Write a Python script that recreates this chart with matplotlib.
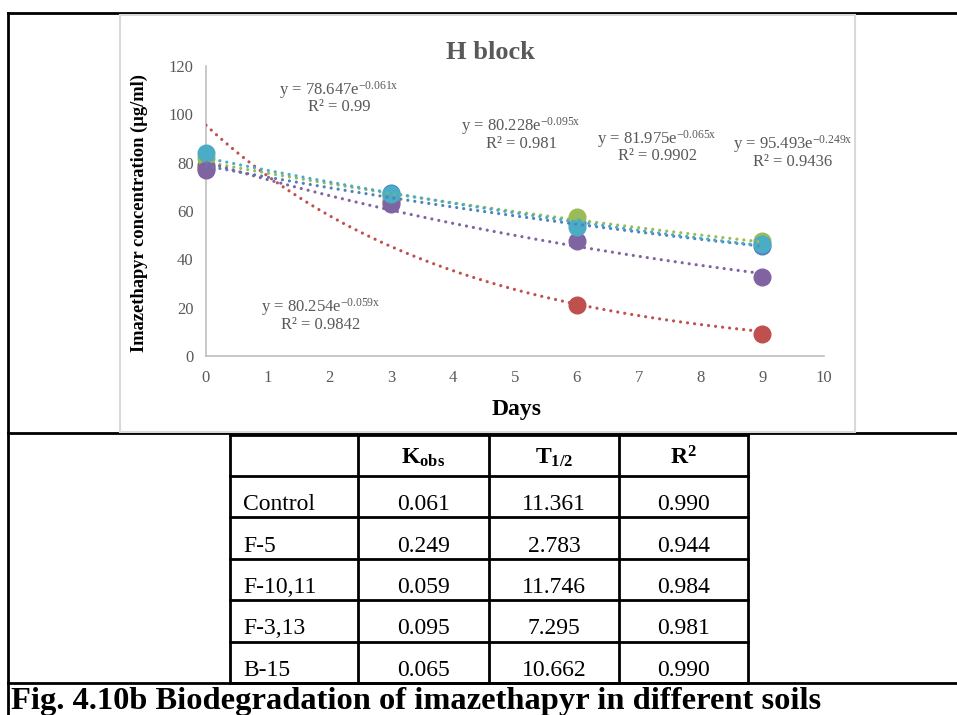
import matplotlib
matplotlib.use("Agg")
import matplotlib.pyplot as plt
import numpy as np

plt.rcParams['font.family'] = ['Liberation Serif', 'DejaVu Serif']
plt.rcParams['mathtext.fontset'] = 'custom'
plt.rcParams['mathtext.rm'] = 'Liberation Serif'
plt.rcParams['mathtext.it'] = 'Liberation Serif:italic'
plt.rcParams['mathtext.bf'] = 'Liberation Serif:bold'

W, H = 957, 715

days = [0, 3, 6, 9]
series_names = ["Control", "F-5", "F-10,11", "F-3,13", "B-15"]
control = [79, 67.5, 55, 45.5]
f5 = [78, 64, 21, 9.2]
f10_11 = [82, 66, 57.5, 47.5]
f3_13 = [77, 63, 47.5, 32.5]
b15 = [84, 67, 53.5, 46.5]
series_vals = [control, f5, f10_11, f3_13, b15]
colors = ["#4F81BD", "#C0504D", "#9BBB59", "#8064A2", "#4BACC6"]

# trendline coefficients as printed on the chart: y = a * exp(-k x)
fit_a = [78.647, 95.493, 80.254, 80.228, 81.975]
fit_k = [0.061, 0.249, 0.059, 0.095, 0.065]
fit_r2 = ["0.99", "0.9436", "0.9842", "0.981", "0.9902"]
# label centres (data coords)
label_pos = [(2.15, 106.5), (9.5, 84), (1.85, 16.5), (5.1, 91.5), (7.3, 86.3)]

# table
tab_rows = ["Control", "F-5", "F-10,11", "F-3,13", "B-15"]
tab_kobs = ["0.061", "0.249", "0.059", "0.095", "0.065"]
tab_thalf = ["11.361", "2.783", "11.746", "7.295", "10.662"]
tab_r2 = ["0.990", "0.944", "0.984", "0.981", "0.990"]
tab_head = ["", r"K$_{\mathbf{obs}}$", r"T$_{\mathbf{1/2}}$", r"R$^{\mathbf{2}}$"]

fig = plt.figure(figsize=(W / 100, H / 100), dpi=100)
bg = fig.add_axes([0, 0, 1, 1])
bg.set_xlim(0, W)
bg.set_ylim(H, 0)
bg.axis("off")

# page frame
bg.plot([8, W], [13, 13], color="black", lw=2)
bg.plot([8, 8], [13, H], color="black", lw=2)
bg.plot([8, W], [433, 433], color="black", lw=2)
bg.plot([8, W], [683, 683], color="black", lw=2)

# chart area box
bg.add_patch(plt.Rectangle((120, 15), 735, 417, facecolor="white",
                           edgecolor="#D9D9D9", lw=1.5, zorder=3))

# table grid
col_x = [230, 358, 489, 619, 748]
row_y = [435, 476, 517, 559, 600, 642, 683]
for x in col_x:
    bg.plot([x, x], [row_y[0], row_y[-1]], color="black", lw=2, zorder=4)
for y in row_y:
    bg.plot([col_x[0], col_x[-1]], [y, y], color="black", lw=2, zorder=4)

for j, h in enumerate(tab_head):
    if h:
        bg.text((col_x[j] + col_x[j + 1]) / 2, 458, h, ha="center", va="center",
                fontsize=17, fontweight="bold", zorder=5)
for i in range(len(tab_rows)):
    yc = (row_y[i + 1] + row_y[i + 2]) / 2 + 8
    bg.text(col_x[0] + 13, yc, tab_rows[i], ha="left", va="center", fontsize=17, zorder=5)
    for j, v in enumerate([tab_kobs[i], tab_thalf[i], tab_r2[i]]):
        bg.text((col_x[j + 1] + col_x[j + 2]) / 2, yc, v, ha="center", va="center",
                fontsize=17, zorder=5)

bg.text(11, 702, "Fig. 4.10b Biodegradation of imazethapyr in different soils",
        ha="left", va="center", fontsize=23.4, fontweight="bold", zorder=5)

# plot axes
x0, x1, y0, y1 = 206, 824, 66, 356
ax = fig.add_axes([x0 / W, (H - y1) / H, (x1 - x0) / W, (y1 - y0) / H])
ax.set_zorder(5)
ax.patch.set_alpha(0)
ax.set_xlim(0, 10)
ax.set_ylim(0, 120)
ax.set_xticks(range(0, 11))
ax.set_yticks(range(0, 121, 20))
for s in ["top", "right"]:
    ax.spines[s].set_visible(False)
for s in ["left", "bottom"]:
    ax.spines[s].set_color("#BFBFBF")
    ax.spines[s].set_linewidth(1.2)
ax.tick_params(length=0, labelsize=12, labelcolor="#595959")
ax.tick_params(axis="y", pad=9)
ax.tick_params(axis="x", pad=10)

xx = np.linspace(0, 9, 200)
for vals, c in zip(series_vals, colors):
    ax.plot(days, vals, "o", color=c, ms=12, zorder=3, clip_on=False)
for a, k, c in zip(fit_a, fit_k, colors):
    ax.plot(xx, a * np.exp(-k * xx), color=c, lw=2.3,
            linestyle=(0, (0.01, 2.2)), dash_capstyle="round", zorder=4)

for a, k, r2, (lx, ly) in zip(fit_a, fit_k, fit_r2, label_pos):
    ax.text(lx, ly + 3.6, "y = %.3fe$^{\\mathrm{-%.3fx}}$" % (a, k), ha="center",
            va="center", fontsize=12, color="#595959", zorder=6)
    ax.text(lx, ly - 3.6, "R² = " + r2, ha="center", va="center",
            fontsize=12, color="#595959", zorder=6)

ax.text(0.46, 1.048, "H block", transform=ax.transAxes, ha="center", va="center",
        fontsize=19, fontweight="bold", color="#595959")
ax.set_ylabel("Imazethapyr concentration (µg/ml)", fontsize=13.3, fontweight="bold")
ax.yaxis.set_label_coords(-0.094, 0.493)
ax.set_xlabel("Days", fontsize=17, fontweight="bold")
ax.xaxis.set_label_coords(0.502, -0.15)

fig.savefig("out.png", dpi=100)
